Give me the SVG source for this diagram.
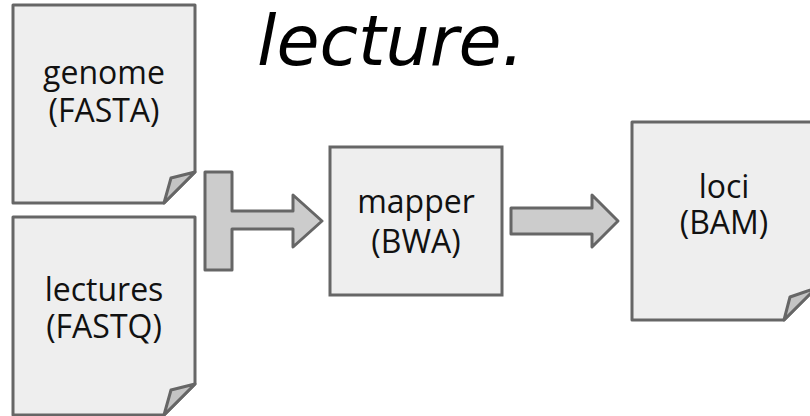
<svg xmlns="http://www.w3.org/2000/svg" width="810" height="416" viewBox="0 0 810 416">
  <style>
    .doc { fill: #eeeeee; stroke: #666666; stroke-width: 3; stroke-linejoin: round; }
    .flap { fill: #c4c4c4; stroke: #666666; stroke-width: 3; stroke-linejoin: round; }
    .box { fill: #eeeeee; stroke: #666666; stroke-width: 3; }
    .arrow { fill: #cccccc; stroke: #666666; stroke-width: 3; stroke-linejoin: round; }
    .label { font-family: "Open Sans", "DejaVu Sans", sans-serif; font-size: 32px; fill: #111111; text-anchor: middle; }
    .title { font-family: "DejaVu Sans", "Open Sans", sans-serif; font-size: 70px; font-style: italic; fill: #000000; }
  </style>
  <rect width="810" height="416" fill="#ffffff"/>

  <text class="title" x="257" y="65">lecture.</text>

  <!-- connectors -->
  <g id="connectors">
    <path class="arrow" d="M205,172 H232 V211 H293 V195 L322,221 L293,247 V229 H232 V270 H205 Z"/>
    <path class="arrow" d="M511,208 H592 V195 L618,221 L592,247 V234 H511 Z"/>
  </g>

  <!-- input documents -->
  <g id="genome">
    <path class="doc" d="M13,5 H195 V172 L164,203 H13 Z"/>
    <path class="flap" d="M164,203 L171,178 L195,172 Z"/>
    <text class="label" x="104" y="84">genome</text>
    <text class="label" x="104" y="122">(FASTA)</text>
  </g>

  <g id="lectures">
    <path class="doc" d="M13,217 H195 V384 L164,415 H13 Z"/>
    <path class="flap" d="M164,415 L171,390 L195,384 Z"/>
    <text class="label" x="104" y="301">lectures</text>
    <text class="label" x="104" y="338">(FASTQ)</text>
  </g>

  <!-- processing step -->
  <g id="mapper">
    <rect class="box" x="330" y="147" width="172" height="148"/>
    <text class="label" x="416" y="213">mapper</text>
    <text class="label" x="416" y="253">(BWA)</text>
  </g>

  <!-- output document -->
  <g id="loci">
    <path class="doc" d="M632,122 H816 V288 L784,320 H632 Z"/>
    <path class="flap" d="M784,320 L790,297 L816,288 Z"/>
    <text class="label" x="724" y="198">loci</text>
    <text class="label" x="724" y="234">(BAM)</text>
  </g>
</svg>
